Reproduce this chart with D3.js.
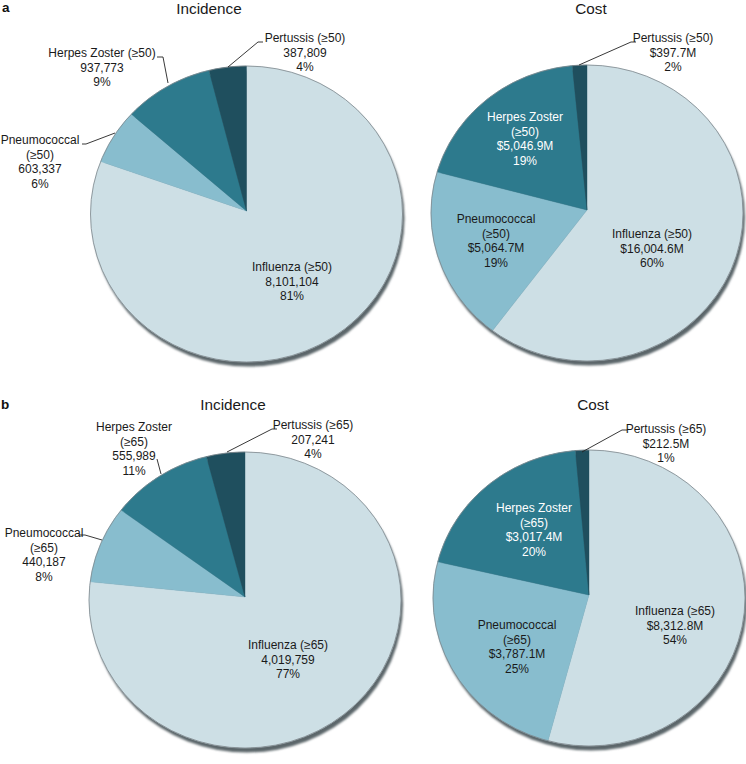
<!DOCTYPE html>
<html><head><meta charset="utf-8">
<script src="https://cdn.jsdelivr.net/npm/d3@7"></script>
<style>
html,body{margin:0;padding:0;background:#fff;}
svg{display:block;font-family:"Liberation Sans",Arial,sans-serif;}
</style></head>
<body>
<svg id="chart" width="746" height="764"></svg>
<script>
// ---- data ----
const diseases = ["Influenza", "Pneumococcal", "Herpes Zoster", "Pertussis"];
const incidenceA = [8101104, 603337, 937773, 387809];
const costA = [16004.6, 5064.7, 5046.9, 397.7];
const incidenceB = [4019759, 440187, 555989, 207241];
const costB = [8312.8, 3787.1, 3017.4, 212.5];
const pctIncidenceA = ["81%", "6%", "9%", "4%"];
const pctCostA = ["60%", "19%", "19%", "2%"];
const pctIncidenceB = ["77%", "8%", "11%", "4%"];
const pctCostB = ["54%", "25%", "20%", "1%"];
const ageGroups = ["≥50", "≥65"];
const panelLetters = ["a", "b"];
const chartTitles = ["Incidence", "Cost"];

// ---- styling / layout ----
const sliceColors = ["#cddfe5", "#88bdce", "#2d7a8d", "#1f4f5e"];
const fmtInc = d3.format(",");
const fmtCost = v => "$" + d3.format(",.1f")(v) + "M";

const charts = [
  { values: incidenceA, pcts: pctIncidenceA, fmt: fmtInc, age: 0, cx: 246.5, cy: 211, title: [209, 14],
    labels: [
      { x: 292, y: 267, split: false, color: "#1a1a1a" },
      { x: 40, y: 140, split: true, color: "#1a1a1a", leader: [[82,144],[86,144],[115,133]] },
      { x: 102, y: 53, split: false, color: "#1a1a1a", leader: [[157,57],[163,57],[168,83]] },
      { x: 305, y: 38, split: false, color: "#1a1a1a", leader: [[263,42],[258,42],[228,67]] }
    ] },
  { values: costA, pcts: pctCostA, fmt: fmtCost, age: 0, cx: 587, cy: 210, title: [591, 14],
    labels: [
      { x: 652, y: 234, split: false, color: "#1a1a1a" },
      { x: 496, y: 219, split: true, color: "#1a1a1a" },
      { x: 525, y: 117, split: true, color: "#ffffff" },
      { x: 673, y: 38, split: false, color: "#1a1a1a", leader: [[636,42],[631,42],[579,65]] }
    ] },
  { values: incidenceB, pcts: pctIncidenceB, fmt: fmtInc, age: 1, cx: 245, cy: 597, title: [233, 410],
    labels: [
      { x: 288, y: 645, split: false, color: "#1a1a1a" },
      { x: 44, y: 533, split: true, color: "#1a1a1a", leader: [[79,535],[85,535],[102,540]] },
      { x: 134, y: 427, split: true, color: "#1a1a1a", leader: [[157,459],[161,474]] },
      { x: 313, y: 425, split: false, color: "#1a1a1a", leader: [[277,429],[272,429],[227,452]] }
    ] },
  { values: costB, pcts: pctCostB, fmt: fmtCost, age: 1, cx: 589, cy: 595, title: [593, 410],
    labels: [
      { x: 675, y: 611, split: false, color: "#1a1a1a" },
      { x: 517, y: 625, split: true, color: "#1a1a1a" },
      { x: 534, y: 508, split: true, color: "#ffffff" },
      { x: 666, y: 429, split: false, color: "#1a1a1a", leader: [[627,430],[622,430],[582,452]] }
    ] }
];

const rx = 156, ry = 148, yOff = 3;
const svg = d3.select("#chart");

const defs = svg.append("defs");
defs.append("filter").attr("id", "blur").attr("x", "-5%").attr("y", "-5%").attr("width", "110%").attr("height", "110%")
  .append("feGaussianBlur").attr("stdDeviation", 0.8);

// panel letters
[[2, 12], [1, 409]].forEach((p, i) => {
  svg.append("text").attr("x", p[0]).attr("y", p[1]).attr("font-size", 13.5).attr("font-weight", "bold")
    .attr("fill", "#111").text(panelLetters[i]);
});

const pie = d3.pie().sort(null).startAngle(0).endAngle(2 * Math.PI);
const line = d3.line();

function wedgePath(d) {
  const n = Math.max(2, Math.ceil((d.endAngle - d.startAngle) / 0.01));
  const pts = [[0, 0]];
  for (let i = 0; i <= n; i++) {
    const t = d.startAngle + (d.endAngle - d.startAngle) * i / n;
    pts.push([rx * Math.sin(t), yOff - ry * Math.cos(t)]);
  }
  return line(pts) + "Z";
}

charts.forEach((c, ci) => {
  // title
  svg.append("text").attr("x", c.title[0]).attr("y", c.title[1]).attr("text-anchor", "middle")
    .attr("font-size", 15.3).attr("fill", "#1a1a1a").text(chartTitles[ci % 2]);

  const g = svg.append("g").attr("transform", `translate(${c.cx},${c.cy})`);
  // shadow
  g.append("ellipse").attr("cx", 2).attr("cy", yOff + 4.5).attr("rx", rx).attr("ry", ry)
    .attr("fill", "#5b666a").attr("filter", "url(#blur)");
  const arcs = pie(c.values);
  g.selectAll("path.slice").data(arcs).join("path").attr("class", "slice")
    .attr("d", wedgePath).attr("fill", (d, i) => sliceColors[i])
    .attr("stroke", (d, i) => sliceColors[i]).attr("stroke-width", 0.4);
  g.append("ellipse").attr("cx", 0).attr("cy", yOff).attr("rx", rx).attr("ry", ry)
    .attr("fill", "none").attr("stroke", "#7d878b").attr("stroke-width", 0.8);

  // labels
  c.labels.forEach((L, i) => {
    const age = "(" + ageGroups[c.age] + ")";
    const lines = L.split ? [diseases[i], age] : [diseases[i] + " " + age];
    lines.push(c.fmt(c.values[i]));
    lines.push(c.pcts[i]);
    if (L.leader) {
      svg.append("path").attr("d", line(L.leader)).attr("fill", "none")
        .attr("stroke", "#222").attr("stroke-width", 0.9);
    }
    const t = svg.append("text").attr("text-anchor", "middle").attr("font-size", 12).attr("fill", L.color);
    lines.forEach((s, k) => {
      t.append("tspan").attr("x", L.x).attr("y", L.y + 4.3 + k * 14.4).text(s);
    });
  });
});
</script>
</body></html>
